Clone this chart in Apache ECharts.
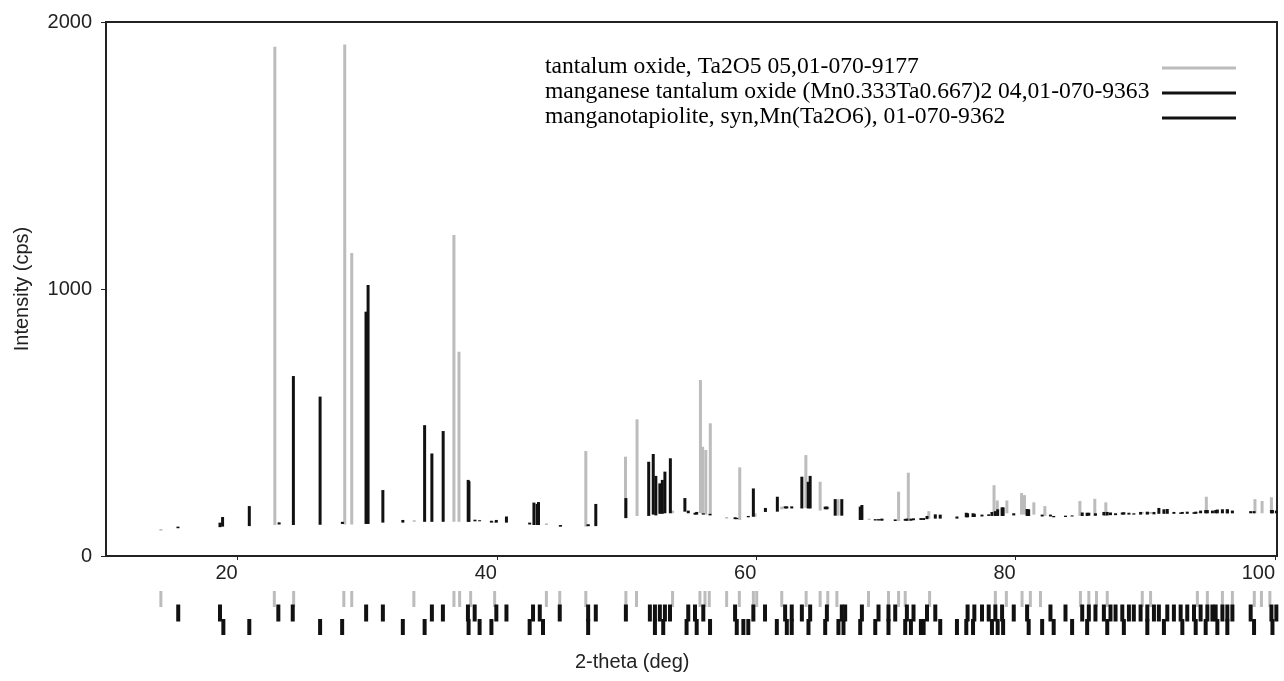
<!DOCTYPE html>
<html>
<head>
<meta charset="utf-8">
<title>XRD pattern</title>
<script src="https://cdn.jsdelivr.net/npm/echarts@6/dist/echarts.min.js"></script>
<style>
  html, body { margin: 0; padding: 0; background: #fff; }
  #main { width: 1284px; height: 681px; }
</style>
</head>
<body>
<div id="main"></div>
<script>
// peaks: [2-theta, background under the peak, peak top] in cps
var tantalumPeaks = [
  [14.08, 95, 101], [22.87, 116, 1907], [28.26, 118, 1916], [28.8, 118, 1135],
  [33.62, 128, 134], [36.68, 128, 1202], [37.07, 128, 765], [39.82, 125, 130],
  [43.81, 116, 122], [44.84, 110, 114], [46.85, 110, 393], [49.91, 142, 372],
  [50.8, 150, 512], [53.54, 160, 170], [55.69, 161, 659], [55.86, 158, 409],
  [56.1, 155, 397], [56.45, 154, 497], [57.71, 140, 146], [58.72, 135, 332],
  [59.9, 147, 160], [61.96, 175, 185], [63.82, 180, 378], [64.92, 170, 278],
  [65.51, 175, 185], [66.3, 151, 213], [68.7, 135, 140], [69.5, 134, 139],
  [70.97, 131, 241], [71.72, 131, 312], [73.3, 140, 168], [78.33, 165, 265],
  [78.58, 165, 208], [79.32, 160, 208], [80.45, 155, 236], [80.68, 155, 228],
  [81.4, 155, 201], [82.25, 150, 187], [84.95, 150, 206], [86.1, 150, 214],
  [86.95, 150, 201], [89.76, 158, 165], [90.4, 158, 165], [94.0, 160, 165],
  [94.7, 160, 222], [95.94, 160, 168], [96.71, 160, 170], [98.45, 160, 213],
  [99.0, 160, 206], [99.72, 160, 220]
];
var mnTaPeaks = [
  [15.4, 104, 110], [18.64, 108, 125], [23.2, 118, 126], [24.3, 116, 674],
  [29.9, 120, 915], [30.06, 120, 1015], [31.2, 125, 247], [34.98, 128, 384],
  [35.85, 128, 468], [37.78, 128, 285], [38.3, 130, 136], [39.95, 125, 135],
  [40.73, 125, 148], [42.85, 116, 200], [43.2, 116, 202], [44.9, 110, 116],
  [47.03, 112, 118], [47.62, 112, 195], [49.94, 142, 217], [51.7, 150, 353],
  [52.05, 155, 382], [52.56, 158, 272], [52.95, 160, 316], [53.37, 160, 366],
  [54.75, 160, 170], [55.27, 155, 162], [55.91, 155, 160], [58.36, 138, 145],
  [59.77, 147, 253], [60.7, 165, 180], [62.22, 178, 186], [62.73, 178, 186],
  [63.51, 178, 297], [64.15, 178, 300], [65.44, 175, 185], [66.08, 151, 213],
  [68.14, 135, 191], [69.42, 133, 138],
  [69.68, 133, 138], [70.71, 131, 137], [71.61, 132, 140], [72.12, 134, 141],
  [73.16, 138, 150], [73.8, 140, 156], [76.29, 145, 160], [76.81, 146, 158],
  [77.4, 148, 155], [77.92, 150, 156], [78.43, 150, 168], [78.95, 150, 182],
  [79.85, 152, 160], [80.88, 150, 176], [82.68, 148, 155], [83.84, 146, 151],
  [85.13, 150, 163], [85.64, 151, 162], [86.15, 151, 160], [86.8, 152, 165],
  [87.31, 153, 163], [87.7, 153, 160], [88.22, 155, 163], [88.73, 155, 162],
  [89.11, 155, 160], [89.63, 155, 165], [90.15, 156, 164], [90.66, 156, 165],
  [91.04, 158, 180], [91.69, 158, 176], [92.2, 158, 165], [92.72, 158, 163],
  [93.23, 158, 166], [93.75, 158, 164], [94.26, 160, 170], [94.78, 160, 172],
  [95.17, 160, 170], [95.42, 160, 172], [95.94, 160, 175], [96.32, 160, 174],
  [96.71, 160, 170], [98.12, 160, 168], [99.72, 160, 172], [100.1, 160, 170]
];
var tapiolitePeaks = [
  [18.84, 110, 146], [20.9, 112, 187], [26.36, 117, 597], [28.08, 120, 128],
  [32.74, 125, 135], [34.42, 128, 490], [37.84, 128, 280], [38.66, 130, 134],
  [39.57, 125, 132], [42.52, 118, 125], [43.1, 116, 195], [47.03, 112, 118],
  [52.25, 152, 300], [52.75, 158, 285], [54.49, 166, 217], [55.4, 155, 165],
  [56.43, 152, 158], [58.49, 138, 143], [59.38, 145, 150], [61.62, 166, 222],
  [62.35, 178, 186], [64.0, 178, 278], [65.31, 175, 185], [66.59, 151, 213],
  [68.01, 135, 185], [69.17, 133, 138],
  [69.68, 133, 140], [71.48, 132, 139], [71.92, 132, 140], [72.69, 135, 142],
  [72.9, 135, 142], [74.18, 140, 155], [75.47, 140, 148], [76.19, 145, 162],
  [76.71, 146, 160], [78.17, 150, 165], [78.61, 150, 175], [79.03, 150, 182],
  [81.0, 150, 175], [82.04, 148, 155], [82.93, 145, 150], [84.35, 148, 152],
  [85.51, 150, 162], [87.06, 152, 165], [88.34, 155, 164], [90.15, 156, 166],
  [91.43, 158, 175], [92.85, 158, 165], [93.88, 158, 166], [94.65, 160, 172],
  [95.55, 160, 174], [96.32, 160, 175], [98.38, 160, 168], [99.8, 160, 172]
];

// reference stick positions drawn under the axis (2-theta)
var tantalumRefs = [
  14.08, 22.83, 24.32, 28.19, 28.8, 33.59, 36.68, 37.12, 37.97, 39.82, 43.81,
  44.84, 46.85, 49.94, 50.76, 53.54, 55.65, 56.04, 56.37, 57.71, 58.69, 59.77,
  60.03, 61.96, 63.84, 64.92, 65.51, 66.21, 68.65, 70.19, 70.97, 71.48, 73.36,
  78.43, 79.28, 80.49, 81.13, 81.91, 84.99, 85.64, 86.23, 87.06, 89.76, 90.4,
  94.01, 94.78, 95.94, 96.71, 98.4, 98.95, 99.6
];
var mnTaRefs = [
  15.42, 18.64, 23.14, 24.25, 29.91, 31.2, 34.98, 35.83, 37.76, 38.28, 39.95,
  40.73, 42.78, 43.3, 44.84, 47.03, 47.62, 49.94, 51.79, 52.18, 52.56, 52.95,
  53.34, 54.75, 55.27, 55.91, 58.36, 59.77, 60.67, 62.22, 62.73, 63.51, 64.15,
  65.44, 66.59, 66.85, 68.14, 69.42, 70.19, 70.71, 71.61, 72.12, 73.16, 73.8,
  76.29, 76.81, 77.4, 77.92, 78.43, 78.95, 79.85, 80.88, 82.68, 83.84, 85.13,
  85.64, 86.15, 86.8, 87.31, 87.7, 88.22, 88.73, 89.11, 89.63, 90.15, 90.66,
  91.04, 91.69, 92.2, 92.72, 93.23, 93.75, 94.26, 94.78, 95.17, 95.42, 95.94,
  96.32, 96.71, 98.12, 99.72, 100.1
];
var tapioliteRefs = [
  18.9, 20.9, 26.36, 28.06, 32.74, 34.42, 37.81, 38.66, 39.57, 42.52, 43.55,
  47.03, 52.18, 52.82, 54.62, 55.4, 56.43, 58.49, 59.0, 59.38, 61.58, 62.35,
  62.73, 64.02, 65.31, 66.33, 66.72, 68.01, 69.17, 70.19, 71.48, 71.92, 72.69,
  72.9, 74.18, 75.47, 76.19, 76.71, 78.17, 78.61, 79.03, 81.0, 82.04, 82.93,
  84.35, 85.51, 87.06, 88.34, 90.15, 91.43, 92.85, 93.88, 94.65, 95.55, 96.32,
  98.38, 99.8
];

var xTicks = [20, 40, 60, 80, 100];
var phaseNames = [
  'tantalum oxide, Ta2O5 05,01-070-9177',
  'manganese tantalum oxide (Mn0.333Ta0.667)2 04,01-070-9363',
  'manganotapiolite, syn,Mn(Ta2O6), 01-070-9362'
];

var GREY = '#bcbcbc';
var BLACK = '#111111';
var AXIS = '#222222';
var SANS = 'Liberation Sans, Arial, sans-serif';
var SERIF = 'Liberation Serif, Times New Roman, serif';

function stick (color) {
  return function (params, api) {
    var lo = api.coord([api.value(0), api.value(1)]);
    var hi = api.coord([api.value(0), api.value(2)]);
    return {
      type: 'line',
      shape: { x1: lo[0], y1: lo[1], x2: hi[0], y2: hi[1] },
      style: { stroke: color, lineWidth: 3 }
    };
  };
}

function refRow (list, row) {
  return list.map(function (v) { return [v, row]; });
}

var legendItems = [];
var legendColors = [GREY, BLACK, BLACK];
phaseNames.forEach(function (name, i) {
  var y = 68 + i * 25;
  legendItems.push({
    type: 'text', left: 545, top: y - 13,
    style: { text: name, font: '23.6px ' + SERIF, fill: '#000' }
  });
  legendItems.push({
    type: 'line',
    shape: { x1: 1162, y1: y, x2: 1236, y2: y },
    style: { stroke: legendColors[i], lineWidth: 3 }
  });
});
legendItems.push({
  type: 'text', left: 575, top: 652,
  style: { text: '2-theta (deg)', font: '20px ' + SANS, fill: '#222' }
});

var chart = echarts.init(document.getElementById('main'))
chart.setOption({
  animation: false,
  backgroundColor: '#fff',
  grid: [
    { left: 106, right: 7, top: 22, bottom: 125, show: true, borderColor: AXIS, borderWidth: 2 },
    { left: 106, right: 7, top: 592, height: 42 }
  ],
  xAxis: [
    {
      type: 'value', gridIndex: 0, min: 9.85, max: 100.15,
      splitLine: { show: false },
      axisLine: { lineStyle: { color: AXIS, width: 2 } },
      axisTick: { customValues: xTicks, length: 4, lineStyle: { color: AXIS } },
      axisLabel: { customValues: xTicks, align: 'right', margin: 7, fontSize: 20, fontFamily: SANS, color: '#222' }
    },
    { type: 'value', gridIndex: 1, min: 9.85, max: 100.15, show: false }
  ],
  yAxis: [
    {
      type: 'value', gridIndex: 0, min: 0, max: 2000, interval: 1000,
      name: 'Intensity (cps)', nameLocation: 'middle', nameGap: 74,
      nameTextStyle: { fontSize: 20, fontFamily: SANS, color: '#222' },
      splitLine: { show: false },
      axisLine: { show: true, lineStyle: { color: AXIS, width: 2 } },
      axisTick: { show: true, length: 5, lineStyle: { color: AXIS } },
      axisLabel: {
        margin: 14, fontSize: 20, fontFamily: SANS, color: '#222',
        formatter: function (v) { return String(v) }
      }
    },
    { type: 'category', gridIndex: 1, data: ['a', 'b', 'c'], inverse: true, show: false }
  ],
  graphic: legendItems,
  series: [
    { type: 'custom', name: phaseNames[0], xAxisIndex: 0, yAxisIndex: 0, renderItem: stick(GREY), encode: { x: 0, y: [1, 2] }, data: tantalumPeaks },
    { type: 'custom', name: phaseNames[1], xAxisIndex: 0, yAxisIndex: 0, renderItem: stick(BLACK), encode: { x: 0, y: [1, 2] }, data: mnTaPeaks },
    { type: 'custom', name: phaseNames[2], xAxisIndex: 0, yAxisIndex: 0, renderItem: stick(BLACK), encode: { x: 0, y: [1, 2] }, data: tapiolitePeaks },
    { type: 'scatter', xAxisIndex: 1, yAxisIndex: 1, symbol: 'rect', symbolSize: [3, 16], itemStyle: { color: GREY, opacity: 1 }, data: refRow(tantalumRefs, 0) },
    { type: 'scatter', xAxisIndex: 1, yAxisIndex: 1, symbol: 'rect', symbolSize: [4, 17], itemStyle: { color: BLACK, opacity: 1 }, data: refRow(mnTaRefs, 1) },
    { type: 'scatter', xAxisIndex: 1, yAxisIndex: 1, symbol: 'rect', symbolSize: [4, 16], itemStyle: { color: BLACK, opacity: 1 }, data: refRow(tapioliteRefs, 2) }
  ]
})
</script>
</body>
</html>
